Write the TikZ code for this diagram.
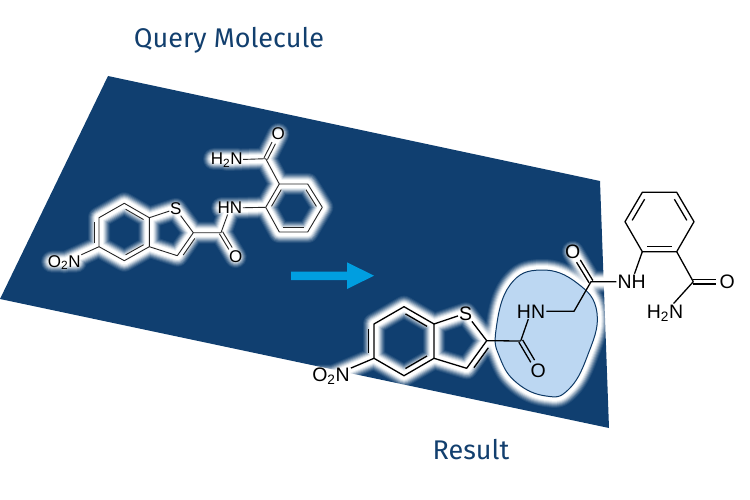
\documentclass[tikz,border=0pt]{standalone}
\usepackage{fontspec}
\setmainfont{Liberation Sans}
\newfontfamily\titlefont{Fira Sans}
\usetikzlibrary{calc}
\definecolor{navy}{HTML}{103F70}
\definecolor{arrowblue}{HTML}{009EE0}
\definecolor{blobfill}{HTML}{BCD7F2}
\definecolor{titleblue}{HTML}{123F6E}
\tikzset{
  qbond/.style={draw=black!85,line width=0.9pt},
  rbond/.style={draw=black,line width=1.3pt},
  qatom/.style={inner sep=0.5pt,font=\fontsize{17}{17}\selectfont,text=black},
  ratom/.style={inner sep=1pt,font=\fontsize{19.5}{19.5}\selectfont,text=black},
  caption/.style={font=\titlefont\fontsize{27}{27}\selectfont,text=titleblue,inner sep=0pt},
}
\newcommand{\glow}[1]{%
  \foreach \w/\o in {22/.08,20/.12,18/.16,16/.22,14/.3,12/.42,10/.6,8/1}{
    \draw[white,opacity=\o,line width=\w pt,line cap=round,line join=round] #1;
  }}
\newcommand{\blobshape}{plot[smooth cycle,tension=.75] coordinates {(541,270) (577,283) (597,313) (587,357) (568,390) (546,396) (517,383) (500,358) (496,330) (510,285)}}
% inner line of a ring double bond: #1 style, #2 #3 end points, #4 signed offset, #5 shortening
\newcommand{\inner}[5]{\draw[#1] ($(#2)!#5!(#3)!#4pt!90:(#3)$) -- ($(#3)!#5!(#2)!#4pt!-90:(#2)$);}
% carbonyl double bond: #1 style, #2 carbon, #3 oxygen node, #4 half spacing, #5 gap left at the oxygen
\newcommand{\carbonyl}[5]{%
  \draw[#1] ($(#2)!#4pt!90:(#3)$) -- ($(#3)!#5pt!(#2)!#4pt!-90:(#2)$);
  \draw[#1] ($(#2)!#4pt!-90:(#3)$) -- ($(#3)!#5pt!(#2)!#4pt!90:(#2)$);}
\begin{document}
\begin{tikzpicture}[x=1pt,y=-1pt]
\useasboundingbox (0,0) rectangle (750,500);
\fill[navy] (108,76) -- (600,181) -- (609,428) -- (0,299) -- cycle;
\node[caption] (qtitle) at (229,40) {Query Molecule};
\node[caption] (rtitle) at (471,450) {Result};
\fill[arrowblue] (291,271.5) -- (347,271.5) -- (347,262.3) -- (374,275.7) -- (347,289) -- (347,280) -- (291,280) -- cycle;

% ---- query molecule coordinates
\coordinate (a1) at (124.3,203.3);
\coordinate (a2) at (149.3,217.7);
\coordinate (a3) at (149.3,246.7);
\coordinate (a4) at (124.3,260.7);
\coordinate (a5) at (99,246.7);
\coordinate (a6) at (99,217.7);
\coordinate (aSc) at (175.7,209);
\coordinate (a7) at (193.3,232.7);
\coordinate (a8) at (177.3,255.7);
\coordinate (a9) at (221,232.7);
\coordinate (aOc) at (235.7,257);
\coordinate (aHNc) at (230,208);
\coordinate (b1) at (265.7,207.3);
\coordinate (b2) at (279.3,184);
\coordinate (b3) at (307.7,184);
\coordinate (b4) at (322.3,207.3);
\coordinate (b5) at (307.7,232);
\coordinate (b6) at (279.3,232);
\coordinate (b7) at (265.7,158.7);
\coordinate (bOc) at (278.3,134);
\coordinate (bNc) at (226.7,160);
\coordinate (aNc) at (64.3,262.5);

\glow{(a1)--(a2)--(a3)--(a4)--(a5)--(a6)--cycle (a2)--(aSc)--(a7)--(a8)--(a3) (a7)--(a9)--(aOc) (a9)--(aHNc) (222,208)--(238,208)--(b1) (b1)--(b2)--(b3)--(b4)--(b5)--(b6)--cycle (b2)--(b7)--(bOc) (b7)--(bNc) (214,159)--(238,159) (a5)--(aNc) (52,261.7)--(76,261.7)}

\node[qatom] (aS) at (aSc) {S};
\node[qatom] (aO) at (aOc) {O};
\node[qatom] (aHN) at (aHNc) {HN};
\node[qatom] (bO) at (bOc) {O};
\node[qatom] (bN) at (bNc) {H\textsubscript{2}N};
\node[qatom] (aN) at (aNc) {O\textsubscript{2}N};

\draw[qbond,line join=round] (a1)--(a2)--(a3)--(a4)--(a5)--(a6)--cycle;
\draw[qbond] (a2)--(aS) (aS)--(a7) (a7)--(a8) (a8)--(a3) (a7)--(a9) (a9)--(aHN) (aHN)--(b1);
\draw[qbond] (a5)--(aN) (b2)--(b7) (b7)--(bN);
\draw[qbond,line join=round] (b1)--(b2)--(b3)--(b4)--(b5)--(b6)--cycle;
\inner{qbond}{a5}{a6}{4.5}{.14}
\inner{qbond}{a1}{a2}{-4.5}{.14}
\inner{qbond}{a3}{a4}{-4.5}{.14}
\inner{qbond}{a7}{a8}{4.5}{.14}
\inner{qbond}{b1}{b2}{-4.5}{.14}
\inner{qbond}{b3}{b4}{-4.5}{.14}
\inner{qbond}{b5}{b6}{-4.5}{.14}
\carbonyl{qbond}{a9}{aO}{1.9}{10}
\carbonyl{qbond}{b7}{bO}{1.9}{10}

% ---- result molecule coordinates
\coordinate (c1) at (404,306.7);
\coordinate (c2) at (434,324);
\coordinate (c3) at (434,358.3);
\coordinate (c4) at (404,375.7);
\coordinate (c5) at (374,358.3);
\coordinate (c6) at (374,324);
\coordinate (cSc) at (465.7,313.3);
\coordinate (c7) at (486.7,340.7);
\coordinate (c8) at (466.7,368.3);
\coordinate (c9) at (520.7,341);
\coordinate (cOc) at (538.3,370.7);
\coordinate (cHNc) at (531,311.3);
\coordinate (c10) at (574,311.3);
\coordinate (c11) at (591,281.7);
\coordinate (dOc) at (572.7,251.7);
\coordinate (dNHc) at (631.7,281.7);
\coordinate (d1) at (642.3,251.7);
\coordinate (d2) at (625,221.7);
\coordinate (d3) at (642.3,192.3);
\coordinate (d4) at (676.7,192.3);
\coordinate (d5) at (694,221.7);
\coordinate (d6) at (676.7,251.7);
\coordinate (d7) at (693.3,281.7);
\coordinate (d8c) at (727.3,281.7);
\coordinate (d9c) at (665,313);
\coordinate (cNc) at (331,376.5);

\glow{(c1)--(c2)--(c3)--(c4)--(c5)--(c6)--cycle (c2)--(cSc)--(c7)--(c8)--(c3) (c7)--(c9) (c5)--(cNc) (318,375.7)--(345,375.7) (c10)--(c11)--(dOc) (c11)--(dNHc)}
\glow{\blobshape}
\filldraw[fill=blobfill,draw=navy!90!black,line width=1pt] \blobshape;

\node[ratom] (cS) at (cSc) {S};
\node[ratom] (cO) at (cOc) {O};
\node[ratom] (cHN) at (cHNc) {HN};
\node[ratom] (dO) at (dOc) {O};
\node[ratom] (dNH) at (dNHc) {NH};
\node[ratom] (d8) at (d8c) {O};
\node[ratom] (d9) at (d9c) {H\textsubscript{2}N};
\node[ratom] (cN) at (cNc) {O\textsubscript{2}N};

\draw[rbond,line join=round] (c1)--(c2)--(c3)--(c4)--(c5)--(c6)--cycle;
\draw[rbond] (c2)--(cS) (cS)--(c7) (c7)--(c8) (c8)--(c3) (c7)--(c9) (c9)--(cHN) (c5)--(cN);
\draw[rbond,line join=round] (cHN)--(c10)--(c11)--(dNH);
\draw[rbond] (dNH)--(d1) (d6)--(d7) (d7)--(d9);
\draw[rbond,line join=round] (d1)--(d2)--(d3)--(d4)--(d5)--(d6)--cycle;
\inner{rbond}{c5}{c6}{5.5}{.14}
\inner{rbond}{c1}{c2}{-5.5}{.14}
\inner{rbond}{c3}{c4}{-5.5}{.14}
\inner{rbond}{c7}{c8}{5.5}{.14}
\inner{rbond}{d2}{d3}{-5.5}{.14}
\inner{rbond}{d4}{d5}{-5.5}{.14}
\inner{rbond}{d6}{d1}{-5.5}{.14}
\carbonyl{rbond}{c9}{cO}{2.2}{11}
\carbonyl{rbond}{c11}{dO}{2.2}{11}
\carbonyl{rbond}{d7}{d8}{2.2}{11}
\end{tikzpicture}
\end{document}
